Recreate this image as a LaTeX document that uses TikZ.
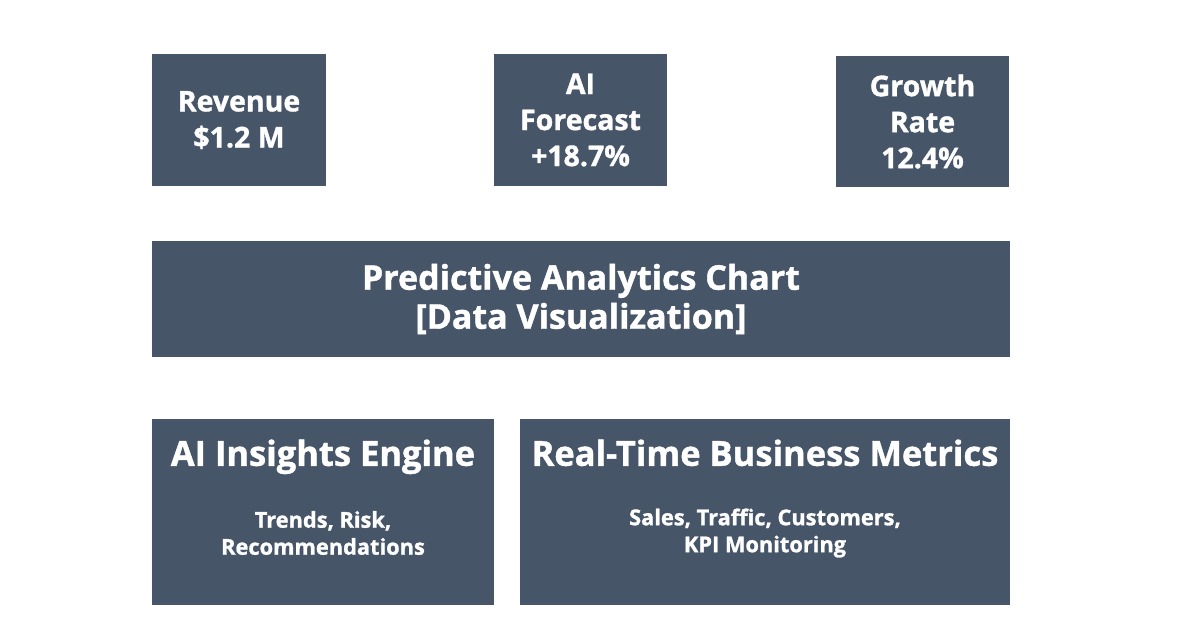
\documentclass[tikz,border=0pt]{standalone}
\usepackage{fontspec}
\setmainfont{Open Sans}[BoldFeatures={FakeBold=1.2}]
\usetikzlibrary{positioning}
\definecolor{slate}{HTML}{475569}
\begin{document}
\begin{tikzpicture}[x=1pt,y=-1pt,
    tile/.style={fill=slate, inner sep=0pt, text=white, align=center,
        font=\bfseries\fontsize{28.5}{36}\selectfont},
    headline/.style={inner sep=0pt, text=white, anchor=base,
        font=\bfseries\fontsize{34.5}{39}\selectfont},
    subline/.style={inner sep=0pt, text=white, align=center,
        font=\bfseries\fontsize{21.8}{27}\selectfont}
    ]
\fill[white] (0,0) rectangle (1200,630);
\useasboundingbox (0,0) rectangle (1200,630);
% key figures
\node[tile, minimum width=174pt, minimum height=132pt] (revenue) at (239,120) {Revenue\\\$1.2 M};
\node[tile, minimum width=173pt, minimum height=132pt] (forecast) at (580.5,120) {AI\\Forecast\\+18.7\%};
\node[tile, minimum width=173pt, minimum height=131pt] (growth) at (922.5,121.5) {Growth\\Rate\\12.4\%};
% chart
\node[tile, minimum width=858pt, minimum height=116pt, font=\bfseries\fontsize{34}{39}\selectfont] (chart) at (581,299)
    {Predictive Analytics Chart\\{[}Data Visualization{]}};
% engine and metrics
\node[tile, minimum width=342pt, minimum height=186pt] (insights) at (323,512) {};
\node[tile, minimum width=490pt, minimum height=186pt] (metrics) at (765,512) {};
\node[headline, below=47pt of insights.north, anchor=base] (insightsTitle) {AI Insights Engine};
\node[headline, below=47pt of metrics.north, anchor=base] (metricsTitle) {Real-Time Business Metrics};
\node[subline] (insightsText) at (323,533) {Trends, Risk,\\Recommendations};
\node[subline] (metricsText) at (765,533) {Sales, Traffic, Customers,\\KPI Monitoring};
\end{tikzpicture}
\end{document}
